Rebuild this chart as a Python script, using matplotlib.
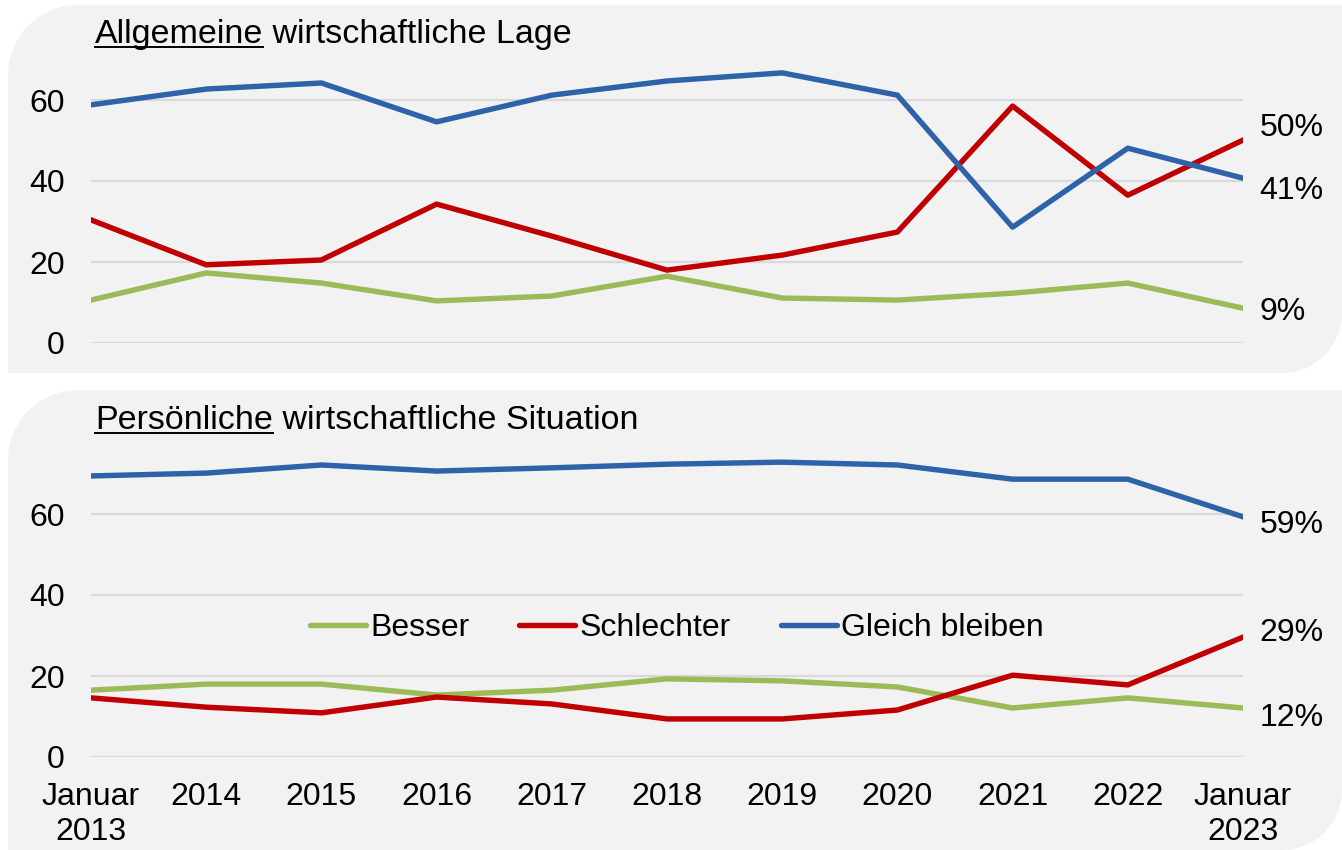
import numpy as np
import matplotlib

matplotlib.use("Agg")
import matplotlib.pyplot as plt
from matplotlib.patches import PathPatch
from matplotlib.path import Path
from matplotlib.lines import Line2D

# data
years = ["Januar\n2013", "2014", "2015", "2016", "2017", "2018",
         "2019", "2020", "2021", "2022", "Januar\n2023"]

lage_besser = [10.6, 17.3, 14.8, 10.4, 11.6, 16.5, 11.1, 10.6, 12.3, 14.8, 8.6]
lage_schlechter = [30.4, 19.3, 20.5, 34.3, 26.4, 18.0, 21.7, 27.4, 58.5, 36.5, 50.1]
lage_gleich = [58.8, 62.7, 64.2, 54.6, 61.2, 64.7, 66.7, 61.2, 28.6, 48.1, 40.7]

pers_besser = [16.5, 18.0, 18.0, 15.3, 16.5, 19.3, 18.8, 17.3, 12.1, 14.6, 12.1]
pers_schlechter = [14.6, 12.3, 10.9, 14.8, 13.1, 9.4, 9.4, 11.6, 20.2, 17.8, 29.6]
pers_gleich = [69.4, 70.1, 72.1, 70.6, 71.4, 72.3, 72.8, 72.1, 68.6, 68.6, 59.3]

end_labels_top = ["9%", "50%", "41%"]
end_labels_bottom = ["12%", "29%", "59%"]

series_names = ["Besser", "Schlechter", "Gleich bleiben"]
colors = ["#9BBB59", "#C00000", "#2E63AA"]

W, H = 1342, 850
plt.rcParams["font.family"] = ["Liberation Sans", "DejaVu Sans"]
FS = 23
TITLE_FS = 24.5

fig = plt.figure(figsize=(W / 100, H / 100), dpi=100)


def px(x, y):
    return x / W, 1 - y / H


def panel(x0, y0, x1, y1, r_tl, r_br):
    # rounded top-left and bottom-right corners, in pixel coords (y down)
    pts = []
    t = np.linspace(np.pi, 1.5 * np.pi, 20)
    pts += [(x0 + r_tl + r_tl * np.cos(a), y0 + r_tl + r_tl * np.sin(a)) for a in t]
    pts += [(x1, y0)]
    t = np.linspace(0, 0.5 * np.pi, 20)
    pts += [(x1 - r_br + r_br * np.cos(a), y1 - r_br + r_br * np.sin(a)) for a in t]
    pts += [(x0, y1)]
    verts = [px(a, b) for a, b in pts]
    verts.append(verts[0])
    codes = [Path.MOVETO] + [Path.LINETO] * (len(verts) - 2) + [Path.CLOSEPOLY]
    p = PathPatch(Path(verts, codes), transform=fig.transFigure,
                  facecolor="#F2F2F2", edgecolor="none", zorder=0)
    fig.add_artist(p)


panel(8, 5, 1342, 373, 70, 60)
panel(8, 390, 1342, 850, 70, 60)

# axes placement (pixels): x 91..1243, 4.05 px per unit
left, right = 91, 1243
ppu = 4.05
ax1 = fig.add_axes([left / W, 1 - 343 / H, (right - left) / W, 70 * ppu / H])
ax2 = fig.add_axes([left / W, 1 - 757 / H, (right - left) / W, 75 * ppu / H])

x = np.arange(len(years))
for ax, data, ylim in [
    (ax1, [lage_besser, lage_schlechter, lage_gleich], 70),
    (ax2, [pers_besser, pers_schlechter, pers_gleich], 75),
]:
    ax.set_facecolor("none")
    for vals, c, name in zip(data, colors, series_names):
        ax.plot(x, vals, color=c, linewidth=3.9, label=name, zorder=3)
    ax.set_xlim(0, len(years) - 1)
    ax.set_ylim(0, ylim)
    ax.set_yticks([0, 20, 40, 60])
    ax.grid(axis="y", color="#D9D9D9", linewidth=1.6, zorder=1)
    for s in ax.spines.values():
        s.set_visible(False)
    ax.tick_params(axis="y", length=0, pad=19, labelsize=FS)
    ax.tick_params(axis="x", length=0, pad=18, labelsize=FS)
    ax.set_xticks(x)

ax1.set_xticklabels([])
ax2.set_xticklabels(years, linespacing=1.2)

# end-of-line labels (offsets in points)
offs_top = [-3, 8.5, -9.5]
for vals, lab, dy in zip([lage_besser, lage_schlechter, lage_gleich], end_labels_top, offs_top):
    ax1.annotate(lab, xy=(x[-1], vals[-1]), xytext=(12, dy), textcoords="offset points",
                 ha="left", va="center", fontsize=FS)
offs_bot = [-7, 3, -6]
for vals, lab, dy in zip([pers_besser, pers_schlechter, pers_gleich], end_labels_bottom, offs_bot):
    ax2.annotate(lab, xy=(x[-1], vals[-1]), xytext=(12, dy), textcoords="offset points",
                 ha="left", va="center", fontsize=FS)

leg = ax2.legend(loc="center", bbox_to_anchor=px(677, 628), bbox_transform=fig.transFigure,
                 ncol=3, frameon=False, fontsize=FS, handlelength=1.75, handletextpad=0.15,
                 columnspacing=1.55)
for h in leg.get_lines():
    h.set_solid_capstyle("round")

# panel titles with underlined first word
fig.canvas.draw()
renderer = fig.canvas.get_renderer()
for word, rest, base_y in [("Allgemeine", " wirtschaftliche Lage", 43),
                           ("Persönliche", " wirtschaftliche Situation", 429)]:
    t1 = fig.text(*px(95, base_y), word, fontsize=TITLE_FS, va="baseline", ha="left")
    bb = t1.get_window_extent(renderer)
    fig.text(bb.x1 / W, 1 - base_y / H, rest, fontsize=TITLE_FS, va="baseline", ha="left")
    uy = 1 - (base_y + 4) / H
    fig.add_artist(Line2D([bb.x0 / W, bb.x1 / W], [uy, uy], color="black",
                          linewidth=1.4, transform=fig.transFigure))

fig.savefig("out.png", dpi=100)
